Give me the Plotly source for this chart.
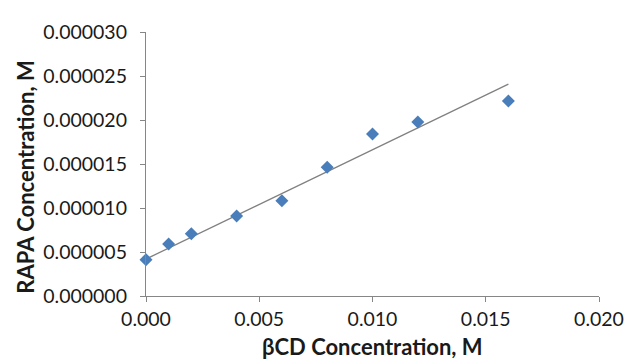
import plotly.graph_objects as go

bcd = [0.000, 0.001, 0.002, 0.004, 0.006, 0.008, 0.010, 0.012, 0.016]
rapa = [4.13e-6, 5.90e-6, 7.07e-6, 9.10e-6, 10.82e-6, 14.62e-6, 18.41e-6, 19.76e-6, 22.16e-6]

# linear trendline as drawn in the reference (endpoints)
trend_x = [0.000, 0.016]
trend_y = [4.2e-6, 24.07e-6]

x_ticks = [0.000, 0.005, 0.010, 0.015, 0.020]
y_ticks = [0.0, 5e-6, 10e-6, 15e-6, 20e-6, 25e-6, 30e-6]

x_title = "βCD Concentration, M"
y_title = "RAPA Concentration, M"

fig = go.Figure()
fig.add_trace(go.Scatter(x=trend_x, y=trend_y, mode="lines",
                         line=dict(color="#808080", width=1.3), showlegend=False))
fig.add_trace(go.Scatter(x=bcd, y=rapa, mode="markers",
                         marker=dict(symbol="diamond", size=10, color="#4a7ebb"),
                         showlegend=False, cliponaxis=False))

font = "Lato, Open Sans, sans-serif"
axis_common = dict(showgrid=False, zeroline=False, showline=True, linecolor="#868686",
                   linewidth=1.2, ticks="outside", ticklen=5, tickcolor="#868686",
                   tickfont=dict(size=19.5, color="#1a1a1a"))
fig.update_layout(
    width=628, height=354,
    margin=dict(l=138, r=26, t=16, b=66),
    plot_bgcolor="white", paper_bgcolor="white",
    font=dict(family=font, size=19.5, color="#1a1a1a"),
    xaxis=dict(range=[0, 0.020], tickvals=x_ticks, tickformat=".3f", **axis_common),
    yaxis=dict(range=[0, 30e-6], tickvals=y_ticks, tickformat=".6f",
               ticklabelstandoff=9, **axis_common),
    annotations=[
        dict(text="<b>" + x_title + "</b>", xref="paper", yref="paper",
             x=0.5, y=-0.191, xanchor="center", yanchor="middle",
             showarrow=False, font=dict(size=22, color="#1a1a1a")),
        dict(text="<b>" + y_title + "</b>", xref="paper", yref="paper",
             x=-0.265, y=0.452, xanchor="center", yanchor="middle", textangle=-90,
             showarrow=False, font=dict(size=22, color="#1a1a1a")),
    ],
)
fig.write_html("out.html")
